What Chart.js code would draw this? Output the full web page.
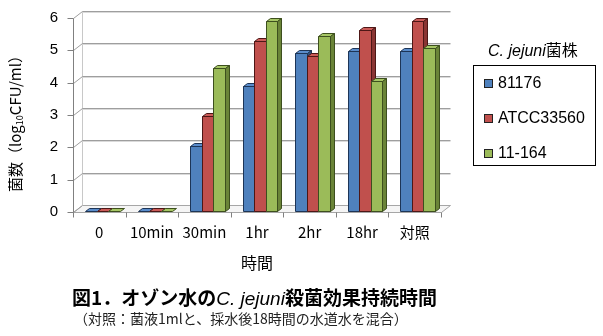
<!DOCTYPE html>
<html>
<head>
<meta charset="utf-8">
<script src="https://cdn.jsdelivr.net/npm/chart.js@4"></script>
<style>
body { margin: 0; background: #fff; }
#wrap { position: relative; width: 603px; height: 336px; font-family: "Noto Sans CJK JP", sans-serif; color: #000; }
#ozoneChart { position: absolute; left: 0; top: 0; }
#yTitle { position: absolute; left: 15px; top: 120px; transform: translate(-50%, -50%) rotate(-90deg); white-space: nowrap; font-size: 15px; line-height: 20px; }
#yTitle sub { font-size: 9px; vertical-align: -2px; line-height: 0; }
#xTitle { position: absolute; left: 257px; top: 262px; transform: translate(-50%, -50%); font-size: 16px; line-height: 20px; white-space: nowrap; }
#legendTitle { position: absolute; left: 488px; top: 39px; font-size: 16px; line-height: 20px; white-space: nowrap; }
#legendTitle i, #caption i { font-family: "Liberation Sans", sans-serif; font-style: italic; font-weight: normal; }
#legend { position: absolute; left: 473px; top: 65px; width: 121px; height: 99px; border: 1px solid #000; }
.item { position: absolute; left: 10px; height: 20px; line-height: 20px; font-family: "Liberation Sans", sans-serif; font-size: 16px; white-space: nowrap; }
.item span { display: inline-block; width: 7px; height: 7px; border: 1px solid #222; margin-right: 5px; vertical-align: 0px; }
#caption { position: absolute; left: 72px; top: 285px; font-size: 19px; line-height: 24px; font-weight: bold; white-space: nowrap; }
#note { position: absolute; left: 74px; top: 309px; font-size: 14px; line-height: 18px; color: #222; white-space: nowrap; }
</style>
</head>
<body>
<div id="wrap">
  <canvas id="ozoneChart" width="603" height="336"></canvas>
  <div id="yTitle">菌数（log<sub>10</sub>CFU/ml）</div>
  <div id="xTitle">時間</div>
  <div id="legendTitle"><i>C. jejuni</i>菌株</div>
  <div id="legend"></div>
  <div id="caption">図1．オゾン水の<i>C. jejuni</i>殺菌効果持続時間</div>
  <div id="note">（対照：菌液1mlと、採水後18時間の水道水を混合）</div>
</div>
<script>
// sampling times after treatment
const timePoints = ['0', '10min', '30min', '1hr', '2hr', '18hr', '対照'];

// log10 CFU/ml per strain
const strainNames = ['81176', 'ATCC33560', '11-164'];
const counts81176 = [0, 0, 2.04, 3.90, 4.93, 4.99, 4.99];
const countsATCC33560 = [0, 0, 2.97, 5.30, 4.83, 5.63, 5.91];
const counts11164 = [0, 0, 4.45, 5.91, 5.44, 4.05, 5.06];

const yTicks = [0, 1, 2, 3, 4, 5, 6];

// face colours: front, top, side, outline
const faceFront = ['#4f81bd', '#c0504d', '#9bbb59'];
const faceTop = ['#5a8ccb', '#ca5b58', '#a6c665'];
const faceSide = ['#2f5280', '#8a3533', '#6a8438'];
const faceEdge = ['#1d3557', '#4d1716', '#3d4f1e'];

// offsets for the fake 3d box and bar depth
const WALL_DX = 9, WALL_DY = -7;
const BAR_DX = 4, BAR_DY = -3;
const BAR_SHIFT = 3;

const line = (ctx, x1, y1, x2, y2, color) => {
    ctx.beginPath();
    ctx.moveTo(x1, y1);
    ctx.lineTo(x2, y2);
    ctx.strokeStyle = color;
    ctx.stroke();
};

const poly = (ctx, pts, fill, edge) => {
    ctx.beginPath();
    ctx.moveTo(pts[0][0], pts[0][1]);
    for (let k = 1; k < pts.length; k++) ctx.lineTo(pts[k][0], pts[k][1]);
    ctx.closePath();
    ctx.fillStyle = fill;
    ctx.fill();
    ctx.strokeStyle = edge;
    ctx.stroke();
};

const box3d = {
    id: 'box3d',
    beforeDatasetsDraw(chart) {
        const { ctx, chartArea: a, scales: { x, y } } = chart;
        const left = Math.round(a.left) + 0.5, right = Math.round(a.right) + 0.5;
        const bottom = Math.round(y.getPixelForValue(0)) + 0.5;
        ctx.save();
        ctx.lineWidth = 1;

        // floor
        poly(ctx, [[left, bottom], [right, bottom], [right + WALL_DX, bottom + WALL_DY], [left + WALL_DX, bottom + WALL_DY]], '#f5f5f5', '#a6a6a6');

        // left wall edge
        const top = Math.round(y.getPixelForValue(6)) + 0.5;
        line(ctx, left + WALL_DX, top + WALL_DY, left + WALL_DX, bottom + WALL_DY, '#c8c8c8');

        // gridlines on back and side walls, ticks on the front axis
        yTicks.forEach(v => {
            const py = Math.round(y.getPixelForValue(v)) + 0.5;
            if (v > 0) {
                line(ctx, left + WALL_DX, py + WALL_DY, right + WALL_DX, py + WALL_DY, '#9e9e9e');
                line(ctx, left + WALL_DX, py + WALL_DY + 1, right + WALL_DX, py + WALL_DY + 1, '#dadada');
            }
            line(ctx, left, py, left + WALL_DX, py + WALL_DY, '#9e9e9e');
            line(ctx, left - 6, py, left, py, '#808080');
        });

        // front value axis
        line(ctx, left, top, left, bottom, '#808080');

        // category tick marks
        const band = (a.right - a.left) / timePoints.length;
        for (let i = 0; i <= timePoints.length; i++) {
            const px = Math.round(a.left + i * band) + 0.5;
            line(ctx, px, bottom, px, bottom + 5, '#808080');
        }

        // bars, left to right so each front face hides the previous side face
        for (let i = 0; i < timePoints.length; i++) {
            chart.data.datasets.forEach((ds, di) => {
                const bar = chart.getDatasetMeta(di).data[i];
                const p = bar.getProps(['x', 'y', 'base', 'width'], true);
                const l = Math.round(p.x - p.width / 2 + BAR_SHIFT) + 0.5;
                const r = Math.round(p.x + p.width / 2 + BAR_SHIFT) + 0.5;
                const t = Math.round(p.y) + 0.5;
                const b = Math.round(p.base) - 0.5;
                if (b - t > 0) {
                    poly(ctx, [[l, t], [r, t], [r, b], [l, b]], faceFront[di], faceEdge[di]);
                }
                const tt = Math.min(t, b);
                poly(ctx, [[l, tt], [r, tt], [r + BAR_DX, tt + BAR_DY], [l + BAR_DX, tt + BAR_DY]], faceTop[di], faceEdge[di]);
                if (b - t > 0) {
                    poly(ctx, [[r, t], [r + BAR_DX, t + BAR_DY], [r + BAR_DX, b + BAR_DY], [r, b]], faceSide[di], faceEdge[di]);
                }
            });
        }
        ctx.restore();
        return false;
    }
};

const seriesData = [counts81176, countsATCC33560, counts11164];

new Chart(document.getElementById('ozoneChart'), {
    type: 'bar',
    data: {
        labels: timePoints,
        datasets: strainNames.map((name, i) => ({
            label: name,
            data: seriesData[i],
            backgroundColor: faceFront[i],
            categoryPercentage: 0.66,
            barPercentage: 1.0,
        }))
    },
    options: {
        responsive: false,
        animation: false,
        layout: { padding: { top: 18, right: 162, left: 0, bottom: 0 } },
        plugins: { legend: { display: false }, tooltip: { enabled: false } },
        scales: {
            x: {
                grid: { display: false, drawTicks: false },
                border: { display: false },
                ticks: { padding: 11, color: '#000', font: { family: 'Noto Sans CJK JP', size: 15 }, maxRotation: 0 },
                afterFit: (scale) => { scale.height = 124; }
            },
            y: {
                min: 0,
                max: 6,
                // tick marks are painted by box3d; only their length is used here
                grid: { drawOnChartArea: false, drawTicks: true, tickLength: 12, color: 'rgba(0,0,0,0)' },
                border: { display: false },
                ticks: { stepSize: 1, padding: 3, color: '#000', font: { family: 'Liberation Sans', size: 15 } },
                afterFit: (scale) => { scale.width = 73; }
            }
        }
    },
    plugins: [box3d]
});

// legend box
const legendEl = document.getElementById('legend');
legendEl.innerHTML = strainNames.map((name, i) =>
    `<div class="item" style="top:${7 + i * 35}px"><span style="background:${faceFront[i]}"></span>${name}</div>`
).join('');
</script>
</body>
</html>
